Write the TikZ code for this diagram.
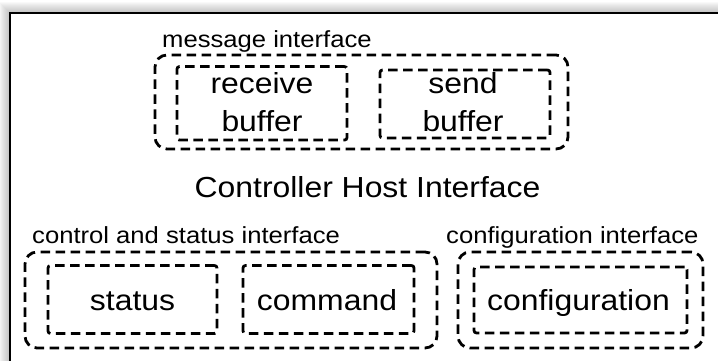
\documentclass[tikz,border=0pt]{standalone}
\usepackage{fontspec}
\setmainfont{Liberation Sans}[FakeStretch=1.1]
\begin{document}
\begin{tikzpicture}[x=1pt,y=-1pt,
  dashline/.style={draw=black, line width=2.8pt, dash pattern=on 9.5pt off 5.5pt},
  groupbox/.style={dashline, rounded corners=12pt, inner sep=0pt},
  partbox/.style={dashline, rounded corners=2.5pt, inner sep=0pt},
  bigtext/.style={font=\fontsize{29}{33}\selectfont, inner sep=0pt, anchor=base},
  grouplabel/.style={font=\fontsize{23.3}{27}\selectfont, inner sep=0pt, anchor=base west}]
  \useasboundingbox (0,0) rectangle (718,361);

  % soft shadow round the frame
  \foreach \i in {1,...,11}{
    \fill[black, opacity=0.022] (10-\i,13-\i) rectangle (740,380);
  }
  \fill[white] (10,13) rectangle (740,380);
  \draw[line width=2.6pt] (740,13) -- (10,13) -- (10,380);

  % message interface
  \node[grouplabel] (msglabel) at (162,48) {message interface};
  \node[groupbox, minimum width=413pt, minimum height=94pt] (msg) at (361.5,102) {};
  \node[partbox, minimum width=170pt, minimum height=73.5pt] (recv) at (262,103.3) {};
  \node[partbox, minimum width=170pt, minimum height=68pt] (send) at (465,104) {};
  \node[bigtext] (recvA) at (262,94) {receive};
  \node[bigtext] (recvB) at (262,131.5) {buffer};
  \node[bigtext] (sendA) at (463,94) {send};
  \node[bigtext] (sendB) at (463,131.5) {buffer};

  % title
  \node[bigtext] (title) at (367.5,197) {Controller Host Interface};

  % control and status interface
  \node[grouplabel] (cslabel) at (32,243) {control and status interface};
  \node[groupbox, minimum width=412pt, minimum height=96pt] (cs) at (231,300) {};
  \node[partbox, minimum width=169pt, minimum height=68pt] (status) at (132.5,299.5) {};
  \node[partbox, minimum width=171pt, minimum height=68pt] (command) at (328.5,299.5) {};
  \node[bigtext] (statusT) at (132.5,310) {status};
  \node[bigtext] (commandT) at (327,310) {command};

  % configuration interface
  \node[grouplabel] (cfglabel) at (446,243) {configuration interface};
  \node[groupbox, minimum width=245pt, minimum height=96pt] (cfg) at (580.5,300) {};
  \node[partbox, minimum width=213pt, minimum height=66pt] (config) at (580.5,300) {};
  \node[bigtext] (configT) at (578.5,310) {configuration};
\end{tikzpicture}
\end{document}
